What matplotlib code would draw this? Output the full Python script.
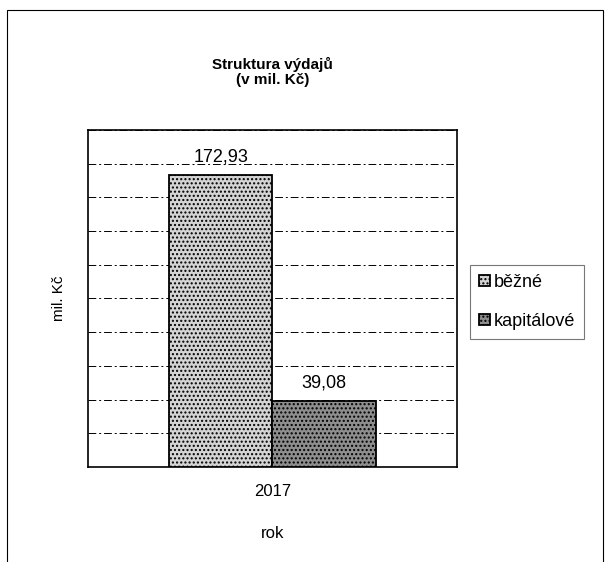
import numpy as np
import matplotlib.pyplot as plt
from matplotlib.patches import Rectangle

plt.rcParams['font.family'] = ['Liberation Sans', 'DejaVu Sans']
plt.rcParams['hatch.color'] = '#777777'

# data
years = ['2017']
series = ['běžné', 'kapitálové']
values = [172.93, 39.08]
colors = ['#d4d4d4', '#8e8e8e']
hatches = ['....', '....']

fig = plt.figure(figsize=(6.06, 5.62), dpi=100)
ax = fig.add_axes([0.145, 0.169, 0.609, 0.600])

# outer chart frame
fig.patches.append(Rectangle((0.012, -0.01), 0.983, 0.992, transform=fig.transFigure,
                             fill=False, edgecolor='black', linewidth=0.8))

x = np.arange(len(years))
width = 0.28
for i, (name, val) in enumerate(zip(series, values)):
    pos = x + (i - 0.5) * width
    bars = ax.bar(pos, [val], width, color=colors[i], edgecolor='black', linewidth=1.3,
                  hatch=hatches[i], label=name, zorder=3)
    for b in bars:
        ax.text(b.get_x() + b.get_width() / 2, b.get_height() + 6,
                f'{b.get_height():.2f}'.replace('.', ','), ha='center', va='bottom',
                fontsize=13, zorder=4)

ax.set_xlim(-0.5, 0.5)
ax.set_ylim(0, 200)
ax.set_yticks(np.arange(0, 201, 20))
ax.set_yticklabels([])
ax.tick_params(axis='y', length=0)
ax.tick_params(axis='x', length=0, labelsize=12, pad=12)
ax.set_xticks(x)
ax.set_xticklabels(years)
ax.yaxis.grid(True, linestyle=(0, (8, 3, 2, 3)), color='black', linewidth=0.7, zorder=0)
for s in ax.spines.values():
    s.set_linewidth(1.2)

ax.set_xlabel('rok', fontsize=12, labelpad=20)
ax.set_ylabel('mil. Kč', fontsize=11, labelpad=12)
ax.set_title('Struktura výdajů\n(v mil. Kč)', fontsize=11, fontweight='bold', pad=33,
             linespacing=1.1)

leg = ax.legend(loc='center left', bbox_to_anchor=(1.035, 0.49), fontsize=13,
                frameon=True, fancybox=False, edgecolor='#555555', handlelength=0.6,
                handleheight=0.6, handletextpad=0.2, labelspacing=1.2, borderpad=0.5,
                borderaxespad=0)
leg.get_frame().set_linewidth(0.8)

fig.savefig('out.png', dpi=100)
